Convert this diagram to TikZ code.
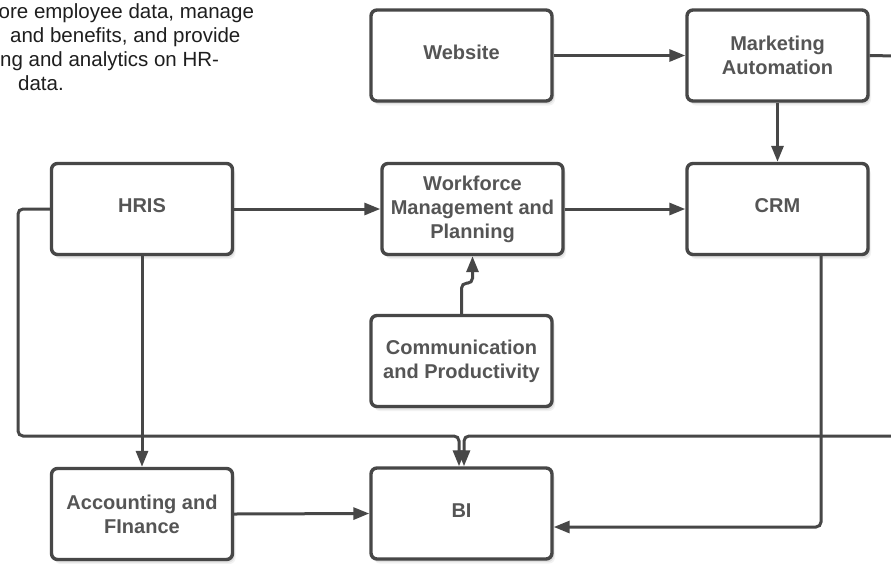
\documentclass[tikz,border=0pt]{standalone}
\usepackage{fontspec}
\setmainfont{Liberation Sans}
\usetikzlibrary{arrows.meta,shadows,calc}
\definecolor{edge}{HTML}{474747}
\definecolor{label}{HTML}{555555}
\definecolor{body}{HTML}{1E1E1E}
\tikzset{
  softshadow/.style={
    general shadow={shadow xshift=1pt,shadow yshift=-1.5pt,fill=black,opacity=0.10},
    general shadow={shadow xshift=2pt,shadow yshift=-3pt,fill=black,opacity=0.07},
    general shadow={shadow xshift=3pt,shadow yshift=-4.5pt,fill=black,opacity=0.05}},
  sys/.style={draw=edge, line width=3.4pt, rounded corners=6pt, fill=white,
    minimum width=181pt, minimum height=91pt, inner sep=0pt, align=center,
    text=label, font=\fontsize{20}{24}\selectfont\bfseries, softshadow},
  oneline/.style={text depth=6pt},
  link/.style={draw=edge, line width=3pt, rounded corners=5pt,
    -{Triangle[length=16pt,width=12pt]}},
  plain/.style={draw=edge, line width=3pt, rounded corners=5pt},
  note/.style={anchor=base west, inner sep=0pt, text=body,
    font=\fontsize{20.5}{24}\selectfont}
}
\begin{document}
\begin{tikzpicture}[x=1pt,y=-1pt]
  \useasboundingbox (0,0) rectangle (891,563);
  \clip (0,0) rectangle (891,563);
  \fill[white] (0,0) rectangle (891,563);

  % description text, running off the left edge
  \node[note] (n1) at (-1.5,18.5) {ore employee data, manage};
  \node[note] (n2) at (10,42.5) {and benefits, and provide};
  \node[note] (n3) at (0,66.5) {ng and analytics on HR-};
  \node[note] (n4) at (18,90.5) {data.};

  % systems
  \node[sys,oneline] (web)  at (461.5,55.5) {Website};
  \node[sys] (mkt)  at (777.5,55.5) {Marketing\\Automation};
  \node[sys,oneline] (hris) at (142,209) {HRIS};
  \node[sys] (wfm)  at (472.5,209) {Workforce\\Management and\\Planning};
  \node[sys,oneline] (crm)  at (777.5,209) {CRM};
  \node[sys] (comm) at (461.5,361) {Communication\\and Productivity};
  \node[sys] (acc)  at (142,514) {Accounting and\\FInance};
  \node[sys,oneline] (bi)   at (461.5,513.5) {BI};

  % bus corners and off-page ends
  \coordinate (busL) at (18,436);
  \coordinate (busR) at (896,436);
  \coordinate (mktout) at (896,56);

  % connectors
  \draw[link] (web.east) -- (mkt.west);
  \draw[plain] (mkt.east) -- (mktout);
  \draw[link] (mkt.south) -- (crm.north);
  \draw[link] (hris.east) -- (wfm.west);
  \draw[link] (wfm.east) -- (crm.west);
  \draw[link] (comm.north) |- ([yshift=-27pt]wfm.south) -- (wfm.south);
  \draw[link] (hris.west) -| (busL) -| ([xshift=-2.5pt]bi.north);
  \draw[link] (busR) -| ([xshift=2.5pt]bi.north);
  \draw[link] (hris.south) -- (acc.north);
  \draw[link] (acc.east) -- (bi.west);
  \draw[link] ([xshift=43.5pt]crm.south) |- ([yshift=-13.5pt]bi.east);
\end{tikzpicture}
\end{document}
